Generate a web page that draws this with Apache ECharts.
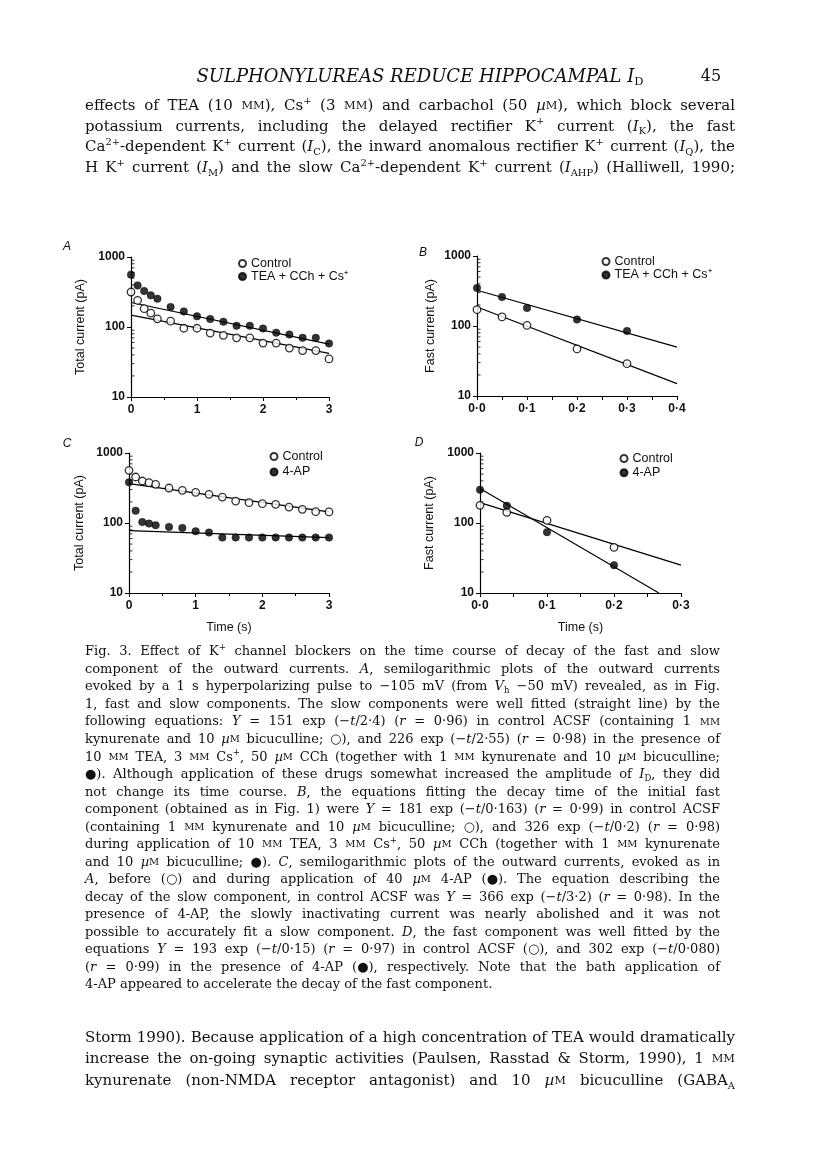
<!DOCTYPE html>
<html><head><meta charset="utf-8">
<script src="https://cdn.jsdelivr.net/npm/echarts@6/dist/echarts.min.js"></script>
<style>html,body{margin:0;padding:0;background:#fff}#c{width:816px;height:1176px}</style>
</head><body><div id="c"></div>
<script>
// ---------- DATA ----------
const tA = [0,0.1,0.2,0.3,0.4,0.6,0.8,1.0,1.2,1.4,1.6,1.8,2.0,2.2,2.4,2.6,2.8,3.0];
const aControl = [316,240,183,158,131,121,96,96,82,76,70,70,59,59,50,46,46,35];
const aTEA = [560,393,327,283,254,193,167,142,130,119,104,104,95,83,78,70,70,58];
const aFitT = [0,3];
const aFitControl = [148,42];
const aFitTEA = [224,57];

const tB = [0,0.05,0.1,0.2,0.3];
const bControl = [171,135,102,47,29];
const bTEA = [349,259,181,124,85];
const bFitT = [0,0.4];
const bFitControl = [187,15];
const bFitTEA = [324,50];

const tC = [0,0.1,0.2,0.3,0.4,0.6,0.8,1.0,1.2,1.4,1.6,1.8,2.0,2.2,2.4,2.6,2.8,3.0];
const cControl = [565,454,398,377,357,316,293,274,257,235,206,195,189,185,169,157,145,144];
const c4AP = [381,150,103,98,93,88,85,76,73,62,62,62,62,62,62,62,62,62];
const cFitT = [0,3];
const cFitControl = [365,144];
const cFit4AP = [78,62];

const tD = [0,0.04,0.1,0.2];
const dControl = [179,142,109,45];
const d4AP = [299,177,74,25];
const dFitControlT = [0,0.3];
const dFitControl = [195,25];
const dFit4APT = [0,0.267];
const dFit4AP = [310,10];

const yMinorTicks = [20,30,40,50,60,70,80,90,200,300,400,500,600,700,800,900];

const legendA = ['Control','TEA + CCh + Cs⁺'];
const legendC = ['Control','4-AP'];

const headerText = 'SULPHONYLUREAS REDUCE HIPPOCAMPAL I';
const pageNo = '45';
const topPara = [
 'effects of TEA (10 {sc|MM}), Cs{sup|+} (3 {sc|MM}) and carbachol (50 {i|µ}{sc|M}), which block several',
 'potassium currents, including the delayed rectifier K{sup|+} current ({i|I}{sub|K}), the fast',
 'Ca{sup|2+}-dependent K{sup|+} current ({i|I}{sub|C}), the inward anomalous rectifier K{sup|+} current ({i|I}{sub|Q}), the',
 'H K{sup|+} current ({i|I}{sub|M}) and the slow Ca{sup|2+}-dependent K{sup|+} current ({i|I}{sub|AHP}) (Halliwell, 1990;'
];
const caption = [
 'Fig. 3. Effect of K{sup|+} channel blockers on the time course of decay of the fast and slow',
 'component of the outward currents. {i|A}, semilogarithmic plots of the outward currents',
 'evoked by a 1 s hyperpolarizing pulse to −105 mV (from {i|V}{sub|h} −50 mV) revealed, as in Fig.',
 '1, fast and slow components. The slow components were well fitted (straight line) by the',
 'following equations: {i|Y} = 151 exp (−{i|t}/2·4) ({i|r} = 0·96) in control ACSF (containing 1 {sc|MM}',
 'kynurenate and 10 {i|µ}{sc|M} bicuculline; ○), and 226 exp (−{i|t}/2·55) ({i|r} = 0·98) in the presence of',
 '10 {sc|MM} TEA, 3 {sc|MM} Cs{sup|+}, 50 {i|µ}{sc|M} CCh (together with 1 {sc|MM} kynurenate and 10 {i|µ}{sc|M} bicuculline;',
 '●). Although application of these drugs somewhat increased the amplitude of {i|I}{sub|D}, they did',
 'not change its time course. {i|B}, the equations fitting the decay time of the initial fast',
 'component (obtained as in Fig. 1) were {i|Y} = 181 exp (−{i|t}/0·163) ({i|r} = 0·99) in control ACSF',
 '(containing 1 {sc|MM} kynurenate and 10 {i|µ}{sc|M} bicuculline; ○), and 326 exp (−{i|t}/0·2) ({i|r} = 0·98)',
 'during application of 10 {sc|MM} TEA, 3 {sc|MM} Cs{sup|+}, 50 {i|µ}{sc|M} CCh (together with 1 {sc|MM} kynurenate',
 'and 10 {i|µ}{sc|M} bicuculline; ●). {i|C}, semilogarithmic plots of the outward currents, evoked as in',
 '{i|A}, before (○) and during application of 40 {i|µ}{sc|M} 4-AP (●). The equation describing the',
 'decay of the slow component, in control ACSF was {i|Y} = 366 exp (−{i|t}/3·2) ({i|r} = 0·98). In the',
 'presence of 4-AP, the slowly inactivating current was nearly abolished and it was not',
 'possible to accurately fit a slow component. {i|D}, the fast component was well fitted by the',
 'equations {i|Y} = 193 exp (−{i|t}/0·15) ({i|r} = 0·97) in control ACSF (○), and 302 exp (−{i|t}/0·080)',
 '({i|r} = 0·99) in the presence of 4-AP (●), respectively. Note that the bath application of',
 '4-AP appeared to accelerate the decay of the fast component.'
];
const bottomPara = [
 'Storm 1990). Because application of a high concentration of TEA would dramatically',
 'increase the on-going synaptic activities (Paulsen, Rasstad & Storm, 1990), 1 {sc|MM}',
 'kynurenate (non-NMDA receptor antagonist) and 10 {i|µ}{sc|M} bicuculline (GABA{sub|A}'
];

// ---------- TEXT LAYOUT HELPERS ----------
const FAM = '"DejaVu Serif", serif';
const SANS = '"Liberation Sans", Arial, sans-serif';
const INK = '#111';
const ctx = document.createElement('canvas').getContext('2d');
function segs(str){
  const out=[]; const re=/\{(\w+)\|([^}]*)\}/g; let last=0, m;
  while((m=re.exec(str))){ if(m.index>last) out.push({s:null,t:str.slice(last,m.index)}); out.push({s:m[1],t:m[2]}); last=re.lastIndex; }
  if(last<str.length) out.push({s:null,t:str.slice(last)});
  return out;
}
function fontOf(s,S){
  if(s==='i') return 'italic '+S+'px '+FAM;
  if(s==='sup'||s==='sub') return (S*0.66).toFixed(2)+'px '+FAM;
  if(s==='sc') return (S*0.76).toFixed(2)+'px '+FAM;
  return S+'px '+FAM;
}
function wordW(w,S){ return segs(w).reduce((a,p)=>{ ctx.font=fontOf(p.s,S); return a+ctx.measureText(p.t).width; },0); }
function richFor(S,L,gap){
  return {
    i:{fontStyle:'italic',fontSize:S,fontFamily:FAM,lineHeight:L,fill:INK},
    sup:{fontSize:+(S*0.66).toFixed(2),fontFamily:FAM,lineHeight:L-0.52*S,verticalAlign:'top',fill:INK},
    sub:{fontSize:+(S*0.66).toFixed(2),fontFamily:FAM,lineHeight:L-0.54*S,verticalAlign:'bottom',fill:INK},
    sc:{fontSize:+(S*0.76).toFixed(2),fontFamily:FAM,lineHeight:L,verticalAlign:'middle',fill:INK},
    g:{width:gap,fontSize:S,fontFamily:FAM,lineHeight:L}
  };
}
function fitSize(lines,width,S0){
  for(let S=S0;S>8;S-=0.1){
    S=+S.toFixed(2);
    const ok=lines.every(l=>{const ws=l.split(' ').map(w=>wordW(w,S)); return ws.reduce((a,b)=>a+b,0)+(ws.length-1)*0.22*S<=width;});
    if(ok) return S;
  }
  return 8;
}
function paragraph(lines,x0,x1,y0,dy,S0,L,lastJust){
  const justLines = lastJust? lines : lines.slice(0,-1);
  const S = fitSize(justLines,x1-x0,S0);
  ctx.font=fontOf(null,S); const sp=ctx.measureText(' ').width;
  return lines.map((str,i)=>{
    const words=str.split(' ');
    const tot=words.reduce((a,w)=>a+wordW(w,S),0);
    const just = lastJust || i<lines.length-1;
    const gap = just && words.length>1 ? (x1-x0-tot)/(words.length-1) : sp;
    return {type:'text',x:x0,y:y0+i*dy,silent:true,
      style:{text:words.join('{g| }'),fontSize:S,fontFamily:FAM,fill:INK,lineHeight:L,
        align:'left',verticalAlign:'middle',rich:richFor(S,L,gap)}};
  });
}

// ---------- CHART HELPERS ----------
function pts(t,v){ return t.map((x,i)=>[x,v[i]]); }
const openStyle={color:'#fff',borderColor:'#000',borderWidth:1.3};
const fillStyle={color:'#000',borderColor:'#000',borderWidth:0.5};
function scat(name,gi,t,v,open){ return {type:'scatter',name,xAxisIndex:gi,yAxisIndex:gi,data:pts(t,v),symbol:'circle',symbolSize:7.5,itemStyle:open?openStyle:fillStyle,z:5,clip:false}; }
function fit(gi,t,v){ return {type:'line',name:'fit'+gi,xAxisIndex:gi,yAxisIndex:gi,data:pts(t,v),showSymbol:false,symbol:'none',lineStyle:{color:'#000',width:1.2},silent:true,z:3}; }
function minor(gi){ return {type:'scatter',name:'ticks'+gi,xAxisIndex:gi,yAxisIndex:gi,data:yMinorTicks.map(v=>[0,v]),symbol:'rect',symbolSize:[3,1],symbolOffset:[2,0],itemStyle:{color:'#000'},silent:true,z:2}; }
const axLine={show:true,onZero:false,lineStyle:{color:'#000',width:1.2}};
function xAx(gi,max,interval,dec,name){
  return {gridIndex:gi,type:'value',min:0,max,interval,axisLine:axLine,
    axisTick:{show:true,length:4,lineStyle:{color:'#000',width:1}},
    minorTick:{show:true,splitNumber:2,length:dec?4:3,lineStyle:{color:'#000',width:1}},
    splitLine:{show:false},minorSplitLine:{show:false},
    axisLabel:{color:INK,fontFamily:SANS,fontWeight:'bold',fontSize:12,margin:7,
      formatter:v=>dec?v.toFixed(1).replace('.','·'):String(v)},
    name:name||'',nameLocation:'middle',nameGap:28,
    nameTextStyle:{color:INK,fontFamily:SANS,fontSize:12.5}};
}
function yAx(gi,name,gap){
  return {gridIndex:gi,type:'log',logBase:10,min:10,max:1000,axisLine:axLine,
    axisTick:{show:true,length:4,lineStyle:{color:'#000',width:1}},
    splitLine:{show:false},
    axisLabel:{color:INK,fontFamily:SANS,fontWeight:'bold',fontSize:12,margin:6,formatter:v=>String(Math.round(v))},
    name,nameLocation:'middle',nameRotate:90,nameGap:gap,
    nameTextStyle:{color:INK,fontFamily:SANS,fontSize:12.5}};
}
function legend(names,left,top,gap){
  return {left,top,orient:'vertical',itemWidth:7,itemHeight:7,itemGap:gap,padding:0,selectedMode:false,
    textStyle:{color:INK,fontFamily:SANS,fontSize:12.5,lineHeight:11.5},
    data:names.map(n=>({name:n,icon:'circle'}))};
}
function letter(t,x,y){ return {type:'text',x,y,silent:true,style:{text:t,fontFamily:SANS,fontStyle:'italic',fontSize:12,fill:INK,align:'center',verticalAlign:'middle'}}; }

// ---------- OPTION ----------
const graphics = [
  {type:'text',x:420,y:77,silent:true,style:{text:'{h|'+headerText+'}{hs|D}',align:'center',verticalAlign:'middle',
    rich:{h:{fontFamily:FAM,fontStyle:'italic',fontSize:18,lineHeight:22,fill:INK},
          hs:{fontFamily:FAM,fontSize:11.5,lineHeight:13,verticalAlign:'bottom',fill:INK}}}},
  {type:'text',x:711,y:77,silent:true,style:{text:pageNo,fontFamily:FAM,fontSize:16,fill:INK,align:'center',verticalAlign:'middle'}},
  letter('A',67,247), letter('B',423,253), letter('C',67,444), letter('D',419,443),
  ...paragraph(topPara,85,735,106,20.7,15,20,true),
  ...paragraph(caption,85,720,652,17.53,13,17,false),
  ...paragraph(bottomPara,85,735,1038,21.5,15,20,true)
];

const option = {
  animation:false,
  backgroundColor:'#fff',
  grid:[
    {left:131,top:257,width:198,height:140},
    {left:477,top:256,width:200,height:140},
    {left:129,top:453,width:200,height:140},
    {left:480,top:453,width:201,height:140}
  ],
  xAxis:[xAx(0,3,1,false), xAx(1,0.4,0.1,true), xAx(2,3,1,false,'Time (s)'), xAx(3,0.3,0.1,true,'Time (s)')],
  yAxis:[yAx(0,'Total current (pA)',44), yAx(1,'Fast current (pA)',40), yAx(2,'Total current (pA)',43), yAx(3,'Fast current (pA)',44)],
  legend:[legend(legendA,238,257,0), legend(legendA,601.5,255,0.5), legend(legendC,269.5,450,2.5), legend(legendC,619.5,452,1.2)],
  series:[
    minor(0),minor(1),minor(2),minor(3),
    fit(0,aFitT,aFitControl), fit(0,aFitT,aFitTEA),
    scat(legendA[0],0,tA,aControl,true), scat(legendA[1],0,tA,aTEA,false),
    fit(1,bFitT,bFitControl), fit(1,bFitT,bFitTEA),
    scat(legendA[0],1,tB,bControl,true), scat(legendA[1],1,tB,bTEA,false),
    fit(2,cFitT,cFitControl), fit(2,cFitT,cFit4AP),
    scat(legendC[0],2,tC,cControl,true), scat(legendC[1],2,tC,c4AP,false),
    fit(3,dFitControlT,dFitControl), fit(3,dFit4APT,dFit4AP),
    scat(legendC[0],3,tD,dControl,true), scat(legendC[1],3,tD,d4AP,false)
  ],
  graphic:graphics
};
const chart = echarts.init(document.getElementById('c'),null,{renderer:'canvas'});
chart.setOption(option);
</script></body></html>
